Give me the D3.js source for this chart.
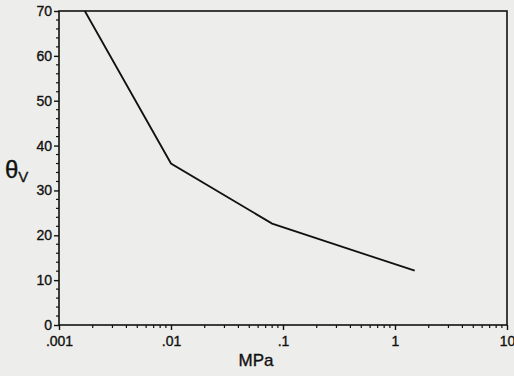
<!DOCTYPE html>
<html lang='en'>
  <head>
    <meta charset='utf-8'>
    <title>theta v vs MPa</title>
    <script type='text/javascript' src='https://cdn.jsdelivr.net/npm/d3@7'></script>
    <style>
      body { margin: 0; background: #ededeb; }
      svg { display: block; }
      text { font-family: 'Liberation Sans', Arial, sans-serif; fill: #111; stroke: #111; stroke-width: 0.35; }
    </style>
  </head>
  <body>
    <script type='text/javascript'>

      // values
      var pressure = [0.0017, 0.01, 0.08, 1.5];
      var thetaV   = [70, 36, 22.6, 12.1];
      var xTicks   = [0.001, 0.01, 0.1, 1, 10];
      var xLabels  = ['.001', '.01', '.1', '1', '10'];
      var yTicks   = [0, 10, 20, 30, 40, 50, 60, 70];

      var w = 514, h = 376;
      var padL = 59, padR = 507, padT = 11, padB = 325;

      var svg = d3.select('body').append('svg')
                  .attr('width', w)
                  .attr('height', h);

      var xScale = d3.scaleLog().domain([0.001, 10]).range([padL, padR]);
      var yScale = d3.scaleLinear().domain([0, 70]).range([padB, padT]);

      // frame
      svg.append('rect')
         .attr('x', padL).attr('y', padT)
         .attr('width', padR - padL).attr('height', padB - padT)
         .attr('fill', 'none').attr('stroke', '#111').attr('stroke-width', 1.6);

      // minor ticks on x: 2..9 of each decade
      var minorX = [];
      for (var e = -3; e < 1; e++) {
        for (var m = 2; m < 10; m++) minorX.push(m * Math.pow(10, e));
      }
      svg.selectAll('.mx').data(minorX).enter().append('line')
         .attr('x1', function(d){ return xScale(d); })
         .attr('x2', function(d){ return xScale(d); })
         .attr('y1', padB).attr('y2', padB + 3)
         .attr('stroke', '#111').attr('stroke-width', 1.2);

      var xAxis = d3.axisBottom(xScale)
                    .tickValues(xTicks)
                    .tickFormat(function(d, i){ return xLabels[i]; })
                    .tickSize(5)
                    .tickPadding(6);
      var gx = svg.append('g').attr('transform', 'translate(0,' + padB + ')').call(xAxis);
      gx.select('.domain').remove();
      gx.selectAll('line').attr('stroke', '#111').attr('stroke-width', 1.4);
      gx.selectAll('text').attr('font-size', 14).attr('fill', '#111');

      // minor ticks on y every 2
      var minorY = d3.range(0, 71, 2).filter(function(d){ return d % 10 !== 0; });
      svg.selectAll('.my').data(minorY).enter().append('line')
         .attr('x1', padL - 3).attr('x2', padL)
         .attr('y1', function(d){ return yScale(d); })
         .attr('y2', function(d){ return yScale(d); })
         .attr('stroke', '#111').attr('stroke-width', 1.2);

      var yAxis = d3.axisLeft(yScale)
                    .tickValues(yTicks)
                    .tickSize(5)
                    .tickPadding(2);
      var gy = svg.append('g').attr('transform', 'translate(' + padL + ',0)').call(yAxis);
      gy.select('.domain').remove();
      gy.selectAll('line').attr('stroke', '#111').attr('stroke-width', 1.4);
      gy.selectAll('text').attr('font-size', 14).attr('fill', '#111');

      // data line
      var line = d3.line()
                   .x(function(d, i){ return xScale(pressure[i]); })
                   .y(function(d){ return yScale(d); });
      svg.append('path')
         .datum(thetaV)
         .attr('d', line)
         .attr('fill', 'none')
         .attr('stroke', '#111')
         .attr('stroke-width', 1.8);

      // axis titles
      svg.append('text')
         .attr('x', 256).attr('y', 366)
         .attr('text-anchor', 'middle')
         .attr('font-size', 17)
         .text('MPa');

      var yt = svg.append('text')
                  .attr('x', 5).attr('y', 178)
                  .attr('font-size', 24);
      yt.append('tspan').text('\u03b8');
      yt.append('tspan').attr('font-size', 15).attr('dy', 4).text('V');

    </script>
  </body>
</html>
